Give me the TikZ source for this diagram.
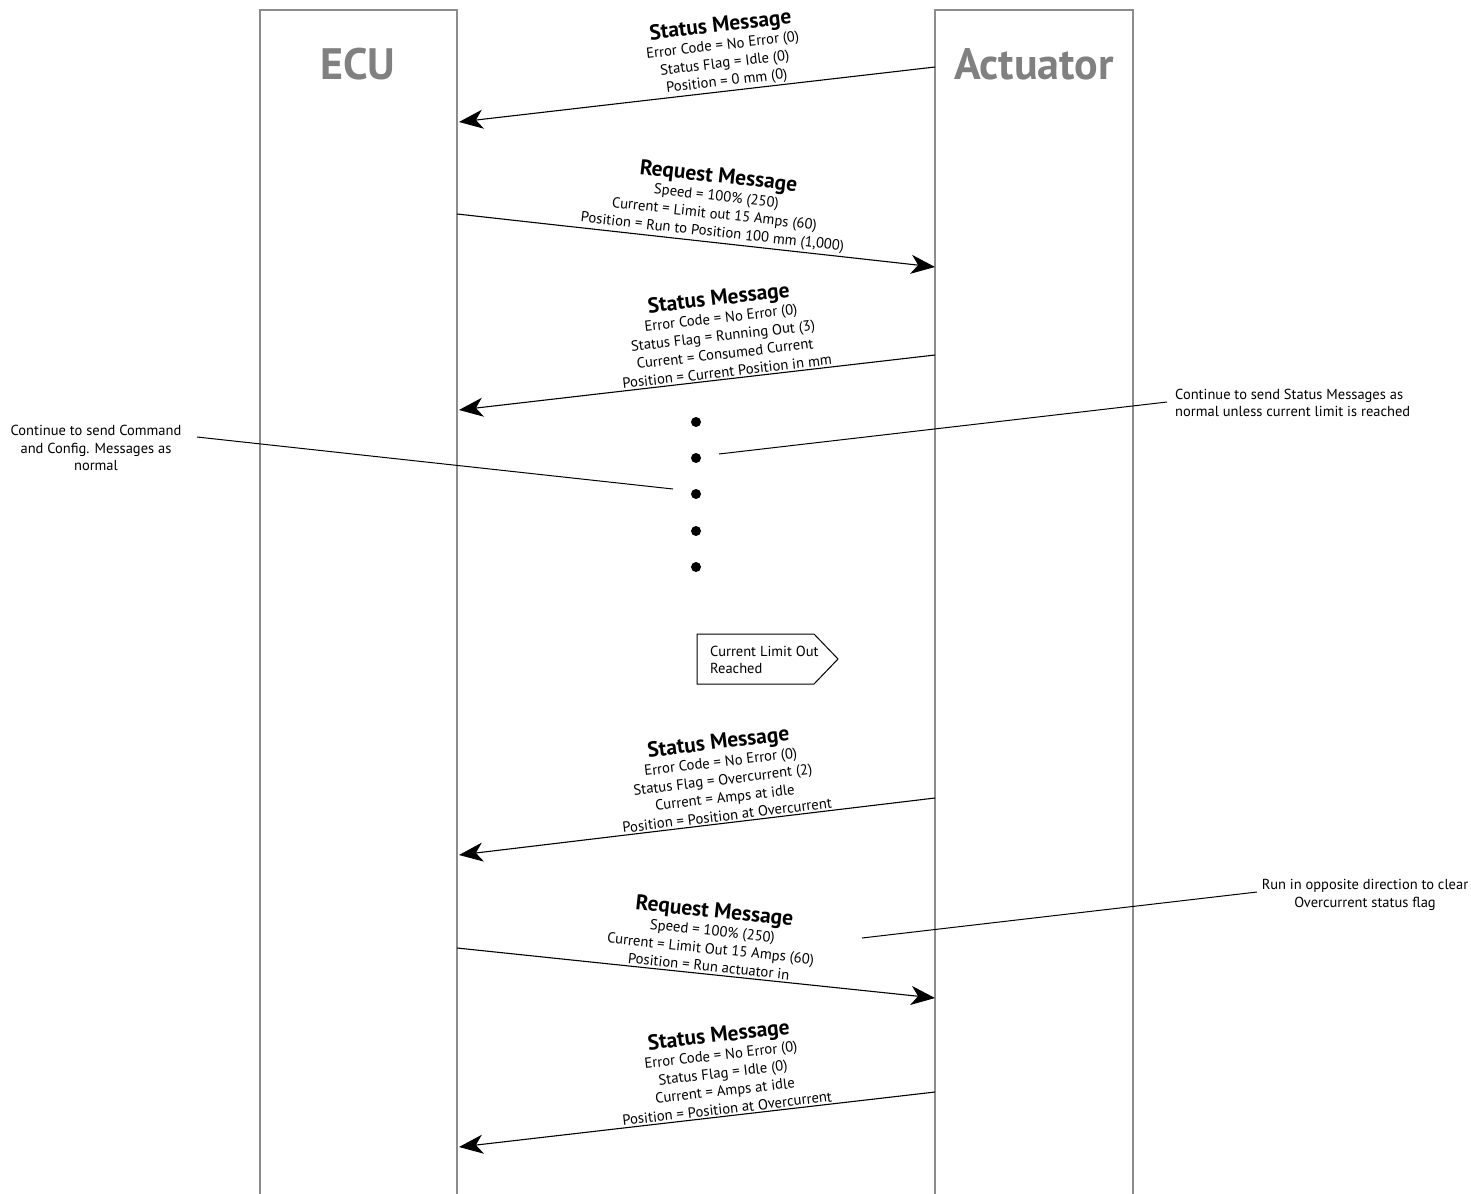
\documentclass[tikz,border=0pt]{standalone}
\usepackage{fontspec}
\setmainfont{PT Sans}
\usetikzlibrary{arrows.meta}
\newcommand\hdfont{\fontsize{21.5}{22}\selectfont\bfseries}
\begin{document}
\begin{tikzpicture}[x=1pt,y=-1pt,
  lifeline/.style={draw=black!45,line width=1.1pt},
  title/.style={font=\fontsize{44}{48}\selectfont\bfseries,text=black!50},
  msg/.style={-{Stealth[length=24pt,width=19pt,inset=7pt]},line width=1.1pt},
  lbl/.style={sloped,above=1pt,align=center,inner sep=1pt,font=\fontsize{14.7}{18}\selectfont},
  note/.style={align=center,font=\fontsize{14.5}{17.5}\selectfont,inner sep=0pt},
  lead/.style={line width=1pt},
  dot/.style={circle,fill=black,inner sep=0pt,minimum size=10pt}]
\useasboundingbox (0,0) rectangle (1471,1193);
% lifelines
\draw[lifeline] (260,1200) -- (260,10) -- (457,10) -- (457,1200);
\draw[lifeline] (935,1200) -- (935,10) -- (1133,10) -- (1133,1200);
\node[title] (ecu) at (358,64) {ECU};
\node[title] (act) at (1034,64) {Actuator};
% endpoints
\coordinate (a1) at (935,67);   \coordinate (e1) at (459,122);
\coordinate (e2) at (457,214);  \coordinate (a2) at (935,267);
\coordinate (a3) at (935,355);  \coordinate (e3) at (459,410);
\coordinate (a4) at (935,798);  \coordinate (e4) at (459,855);
\coordinate (e5) at (457,948);  \coordinate (a5) at (935,998);
\coordinate (a6) at (935,1092); \coordinate (e6) at (459,1147);
% messages
\draw[msg] (a1) -- (e1);
\path (e1) -- (a1) node[lbl,pos=0.565] {{\hdfont Status Message}\\Error Code = No Error (0)\\Status Flag = Idle (0)\\Position = 0 mm (0)};
\draw[msg] (e2) -- (a2) node[lbl,pos=0.532] {{\hdfont Request Message}\\Speed = 100\% (250)\\Current = Limit out 15 Amps (60)\\Position = Run to Position 100 mm (1,000)};
\draw[msg] (a3) -- (e3);
\path (e3) -- (a3) node[lbl,pos=0.565] {{\hdfont Status Message}\\Error Code = No Error (0)\\Status Flag = Running Out (3)\\Current = Consumed Current\\Position = Current Position in mm};
\draw[msg] (a4) -- (e4);
\path (e4) -- (a4) node[lbl,pos=0.565] {{\hdfont Status Message}\\Error Code = No Error (0)\\Status Flag = Overcurrent (2)\\Current = Amps at idle\\Position = Position at Overcurrent};
\draw[msg] (e5) -- (a5) node[lbl,pos=0.525] {{\hdfont Request Message}\\Speed = 100\% (250)\\Current = Limit Out 15 Amps (60)\\Position = Run actuator in};
\draw[msg] (a6) -- (e6);
\path (e6) -- (a6) node[lbl,pos=0.565] {{\hdfont Status Message}\\Error Code = No Error (0)\\Status Flag = Idle (0)\\Current = Amps at idle\\Position = Position at Overcurrent};
% dots
\node[dot] (d1) at (696,422) {};
\node[dot] (d2) at (696,458) {};
\node[dot] (d3) at (696,494) {};
\node[dot] (d4) at (696,531) {};
\node[dot] (d5) at (696,567) {};
% notes
\node[note] (nL) at (96,448) {Continue to send Command\\and Config. Messages as\\normal};
\coordinate (nLs) at (197,437); \coordinate (nLe) at (673,489);
\draw[lead] (nLs) -- (nLe);
\node[note,align=left,anchor=west] (nR) at (1175,403) {Continue to send Status Messages as\\normal unless current limit is reached};
\coordinate (nRs) at (1167,402); \coordinate (nRe) at (719,454);
\draw[lead] (nRs) -- (nRe);
\node[note] (nB) at (1365,895) {Run in opposite direction to clear\\Overcurrent status flag};
\coordinate (nBs) at (1257,892); \coordinate (nBe) at (862,938);
\draw[lead] (nBs) -- (nBe);
% current limit reached
\draw[line width=1pt] (697,634) -- (814,634) -- (838,659) -- (814,684) -- (697,684) -- cycle;
\node[note,align=left,anchor=west] (lim) at (710,660) {Current Limit Out\\Reached};
\end{tikzpicture}
\end{document}
